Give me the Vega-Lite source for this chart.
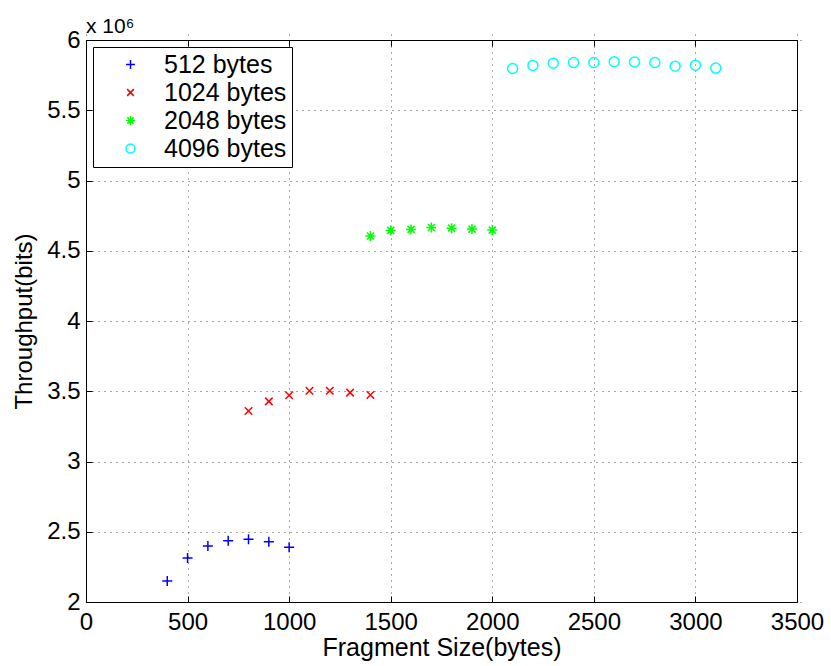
{
  "$schema": "https://vega.github.io/schema/vega-lite/v6.json",
  "width": 711,
  "height": 562,
  "autosize": "none",
  "padding": {"left": 86, "top": 40, "right": 34, "bottom": 64},
  "background": "white",
  "config": {
    "font": "Liberation Sans",
    "view": {"stroke": "black", "strokeWidth": 1},
    "axis": {
      "domain": false,
      "tickColor": "black",
      "tickSize": 6,
      "offset": -6,
      "labelFontSize": 24,
      "labelColor": "black",
      "labelFont": "Liberation Sans",
      "titleFont": "Liberation Sans",
      "titleFontSize": 24,
      "titleFontWeight": "normal",
      "titleColor": "black",
      "gridColor": "black",
      "gridDash": [1, 5],
      "gridOpacity": 0.7,
      "labelFlush": false,
      "labelOverlap": false
    },
    "legend": {
      "orient": "none",
      "legendX": 7,
      "legendY": 7,
      "strokeColor": "black",
      "fillColor": "white",
      "padding": 5,
      "symbolOffset": 20,
      "labelOffset": 21,
      "labelFontSize": 25,
      "labelFont": "Liberation Sans",
      "labelColor": "black",
      "rowPadding": 2,
      "symbolStrokeWidth": 1.5,
      "symbolSize": 80
    }
  },
  "title": {
    "text": "x 10⁶",
    "anchor": "start",
    "frame": "group",
    "fontSize": 21,
    "fontWeight": "normal",
    "font": "Liberation Sans",
    "color": "black",
    "offset": 8,
    "dy": 17
  },
  "data": {
    "values": [
      {"series": "512 bytes", "size": 400, "throughput": 2150000},
      {"series": "512 bytes", "size": 500, "throughput": 2313000},
      {"series": "512 bytes", "size": 600, "throughput": 2399000},
      {"series": "512 bytes", "size": 700, "throughput": 2436000},
      {"series": "512 bytes", "size": 800, "throughput": 2446000},
      {"series": "512 bytes", "size": 900, "throughput": 2429000},
      {"series": "512 bytes", "size": 1000, "throughput": 2389000},
      {"series": "1024 bytes", "size": 800, "throughput": 3359000},
      {"series": "1024 bytes", "size": 900, "throughput": 3428000},
      {"series": "1024 bytes", "size": 1000, "throughput": 3471000},
      {"series": "1024 bytes", "size": 1100, "throughput": 3503000},
      {"series": "1024 bytes", "size": 1200, "throughput": 3503000},
      {"series": "1024 bytes", "size": 1300, "throughput": 3490000},
      {"series": "1024 bytes", "size": 1400, "throughput": 3473000},
      {"series": "2048 bytes", "size": 1400, "throughput": 4605000},
      {"series": "2048 bytes", "size": 1500, "throughput": 4645000},
      {"series": "2048 bytes", "size": 1600, "throughput": 4652000},
      {"series": "2048 bytes", "size": 1700, "throughput": 4666000},
      {"series": "2048 bytes", "size": 1800, "throughput": 4661000},
      {"series": "2048 bytes", "size": 1900, "throughput": 4654000},
      {"series": "2048 bytes", "size": 2000, "throughput": 4647000},
      {"series": "4096 bytes", "size": 2100, "throughput": 5797000},
      {"series": "4096 bytes", "size": 2200, "throughput": 5819000},
      {"series": "4096 bytes", "size": 2300, "throughput": 5835000},
      {"series": "4096 bytes", "size": 2400, "throughput": 5840000},
      {"series": "4096 bytes", "size": 2500, "throughput": 5840000},
      {"series": "4096 bytes", "size": 2600, "throughput": 5845000},
      {"series": "4096 bytes", "size": 2700, "throughput": 5843000},
      {"series": "4096 bytes", "size": 2800, "throughput": 5840000},
      {"series": "4096 bytes", "size": 2900, "throughput": 5814000},
      {"series": "4096 bytes", "size": 3000, "throughput": 5821000},
      {"series": "4096 bytes", "size": 3100, "throughput": 5800000}
    ]
  },
  "layer": [
    {
      "mark": {"type": "point", "filled": false, "strokeWidth": 1.5, "size": 100, "opacity": 1},
      "encoding": {
        "x": {
          "field": "size",
          "type": "quantitative",
          "scale": {"domain": [0, 3500], "nice": false, "zero": false},
          "axis": {
            "orient": "bottom",
            "values": [0, 500, 1000, 1500, 2000, 2500, 3000, 3500],
            "format": "d",
            "title": "Fragment Size(bytes)",
            "titleFontSize": 25,
            "labelPadding": 8,
            "titlePadding": 1
          }
        },
        "y": {
          "field": "throughput",
          "type": "quantitative",
          "scale": {"domain": [2000000, 6000000], "nice": false, "zero": false},
          "axis": {
            "orient": "left",
            "values": [2000000, 2500000, 3000000, 3500000, 4000000, 4500000, 5000000, 5500000, 6000000],
            "labelExpr": "format(datum.value / 1000000, '')",
            "title": "Throughput(bits)",
            "labelPadding": 6,
            "titlePadding": 10
          }
        },
        "color": {
          "field": "series",
          "type": "nominal",
          "sort": ["512 bytes", "1024 bytes", "2048 bytes", "4096 bytes"],
          "scale": {"domain": ["512 bytes", "1024 bytes", "2048 bytes", "4096 bytes"], "range": ["#0000ff", "#ff0000", "#00ff00", "#00ffff"]},
          "legend": {"title": null}
        },
        "shape": {
          "field": "series",
          "type": "nominal",
          "sort": ["512 bytes", "1024 bytes", "2048 bytes", "4096 bytes"],
          "scale": {"domain": ["512 bytes", "1024 bytes", "2048 bytes", "4096 bytes"], "range": ["M-1,0L1,0M0,-1L0,1", "M-0.75,-0.75L0.75,0.75M-0.75,0.75L0.75,-0.75", "M-1,0L1,0M0,-1L0,1M-0.7,-0.7L0.7,0.7M-0.7,0.7L0.7,-0.7", "circle"]},
          "legend": {"title": null}
        }
      }
    },
    {
      "mark": {"type": "point", "opacity": 0},
      "encoding": {
        "x": {
          "field": "size",
          "type": "quantitative",
          "axis": {"orient": "top", "values": [0, 500, 1000, 1500, 2000, 2500, 3000, 3500], "labels": false, "grid": false, "title": null}
        },
        "y": {
          "field": "throughput",
          "type": "quantitative",
          "axis": {"orient": "right", "values": [2000000, 2500000, 3000000, 3500000, 4000000, 4500000, 5000000, 5500000, 6000000], "labels": false, "grid": false, "title": null}
        }
      }
    }
  ],
  "resolve": {"axis": {"x": "independent", "y": "independent"}}
}
